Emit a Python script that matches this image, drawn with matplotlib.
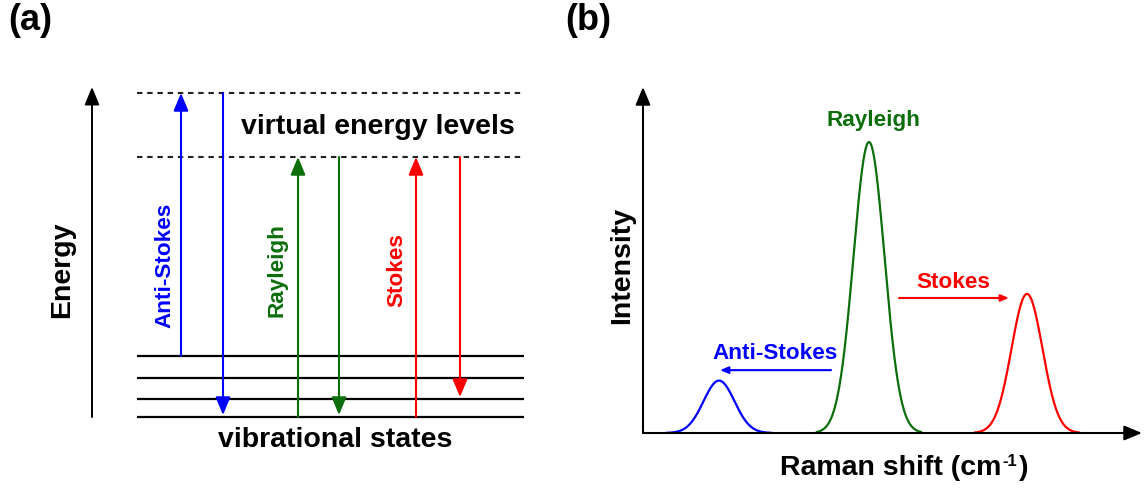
import numpy as np
import matplotlib.pyplot as plt

plt.rcParams['font.family'] = ['Liberation Sans', 'DejaVu Sans']
plt.rcParams['font.weight'] = 'bold'

# energy diagram: vibrational and virtual levels (units of ~20 px)
vib_levels = [0.0, 0.9, 1.95, 3.05]
virtual_levels = [13.0, 16.2]

# scattering processes: (start level, virtual level, end level)
process_names = ['Anti-Stokes', 'Rayleigh', 'Stokes']
process_colors = ['#0000ff', '#0b6e0b', '#ff0000']
excite_from = [vib_levels[3], vib_levels[0], vib_levels[0]]
excite_to = [virtual_levels[1], virtual_levels[0], virtual_levels[0]]
relax_to = [vib_levels[0], vib_levels[0], vib_levels[1]]

# spectrum peaks
peak_centers = [76, 226, 384]
peak_heights = [0.18, 1.0, 0.478]
peak_sigma = 15.5

W, H = 1147, 489
fig = plt.figure(figsize=(W / 100, H / 100), dpi=100)

big = 20.5
small = 16.2


def head(ms=18, lw=1.5, color='k'):
    return dict(arrowstyle='-|>,head_length=0.6,head_width=0.25',
                mutation_scale=ms, lw=lw, color=color,
                shrinkA=0, shrinkB=0)


# ---------------- (a) energy level diagram ----------------
axa = fig.add_axes([92 / W, (H - 418) / H, (525 - 92) / W, (418 - 88) / H])
axa.set_xlim(0, 433)
axa.set_ylim(0, 16.5)
axa.axis('off')

axa.annotate('', xy=(0, 16.5), xytext=(0, 0), arrowprops=head(lw=1.4))

for lv in vib_levels:
    axa.plot([45, 432], [lv, lv], color='k', lw=1.6, solid_capstyle='butt',
             clip_on=False)
for lv in virtual_levels:
    axa.plot([45, 432], [lv, lv], color='#222222', lw=1.5,
             linestyle=(0, (2.6, 2.3)), clip_on=False)

up_x = [89, 206, 324]
down_x = [131, 247, 368]
label_x = [73, 185, 305]
label_y = [7.65, 7.4, 7.4]
for i, name in enumerate(process_names):
    c = process_colors[i]
    axa.annotate('', xy=(up_x[i], excite_to[i]), xytext=(up_x[i], excite_from[i]),
                 arrowprops=head(lw=1.5, color=c))
    axa.annotate('', xy=(down_x[i], relax_to[i] + 0.1), xytext=(down_x[i], excite_to[i]),
                 arrowprops=head(lw=1.5, color=c))
    axa.text(label_x[i], label_y[i], name, color=c, fontsize=small,
             rotation=90, ha='center', va='center')

axa.text(-30, 7.4, 'Energy', fontsize=big, rotation=90, ha='center', va='center')
axa.text(286, 14.55, 'virtual energy levels', fontsize=big, ha='center', va='center')
axa.text(243, -1.1, 'vibrational states', fontsize=big, ha='center', va='center')

fig.text(8 / W, 1 - 21 / H, '(a)', fontsize=26, ha='left', va='center')
fig.text(565 / W, 1 - 21 / H, '(b)', fontsize=26, ha='left', va='center')

# ---------------- (b) Raman spectrum ----------------
axb = fig.add_axes([643 / W, (H - 434) / H, (1142 - 643) / W, (434 - 88) / H])
axb.set_xlim(0, 499)
axb.set_ylim(0, 346 / 291)
axb.axis('off')

axb.annotate('', xy=(0, 1), xytext=(0, 0), xycoords='axes fraction',
             textcoords='axes fraction', arrowprops=head(lw=1.5))
axb.annotate('', xy=(1, 0), xytext=(0, 0), xycoords='axes fraction',
             textcoords='axes fraction', arrowprops=head(lw=1.5))

for c0, h, col in zip(peak_centers, peak_heights, process_colors):
    x = np.linspace(c0 - 52, c0 + 52, 300)
    y = h * np.exp(-(x - c0) ** 2 / (2 * peak_sigma ** 2))
    axb.plot(x, y, color=col, lw=1.6, clip_on=False)

axb.text(230, 1.076, 'Rayleigh', color=process_colors[1], fontsize=small,
         ha='center', va='center')
axb.text(310, 0.519, 'Stokes', color=process_colors[2], fontsize=small,
         ha='center', va='center')
axb.annotate('', xy=(366, 0.464), xytext=(256, 0.464),
             arrowprops=head(ms=8, lw=1.5, color=process_colors[2]))
axb.text(132, 0.278, 'Anti-Stokes', color=process_colors[0], fontsize=small,
         ha='center', va='center')
axb.annotate('', xy=(77, 0.216), xytext=(188, 0.216),
             arrowprops=head(ms=8, lw=1.5, color=process_colors[0]))

axb.text(-21, 0.58, 'Intensity', fontsize=big, rotation=90, ha='center', va='center')

# x label with a small "-1" superscript
xl = axb.text(137, -0.117, 'Raman shift (cm', fontsize=big, ha='left', va='center')
sup = axb.annotate('-1', xy=(1, 0.47), xycoords=xl, xytext=(1, 0),
                   textcoords='offset points', fontsize=12, ha='left', va='bottom')
axb.annotate(')', xy=(1, 0), xycoords=(sup, xl), xytext=(1, 0),
             textcoords='offset points', fontsize=big, ha='left', va='bottom')

fig.savefig('out.png', dpi=100)
